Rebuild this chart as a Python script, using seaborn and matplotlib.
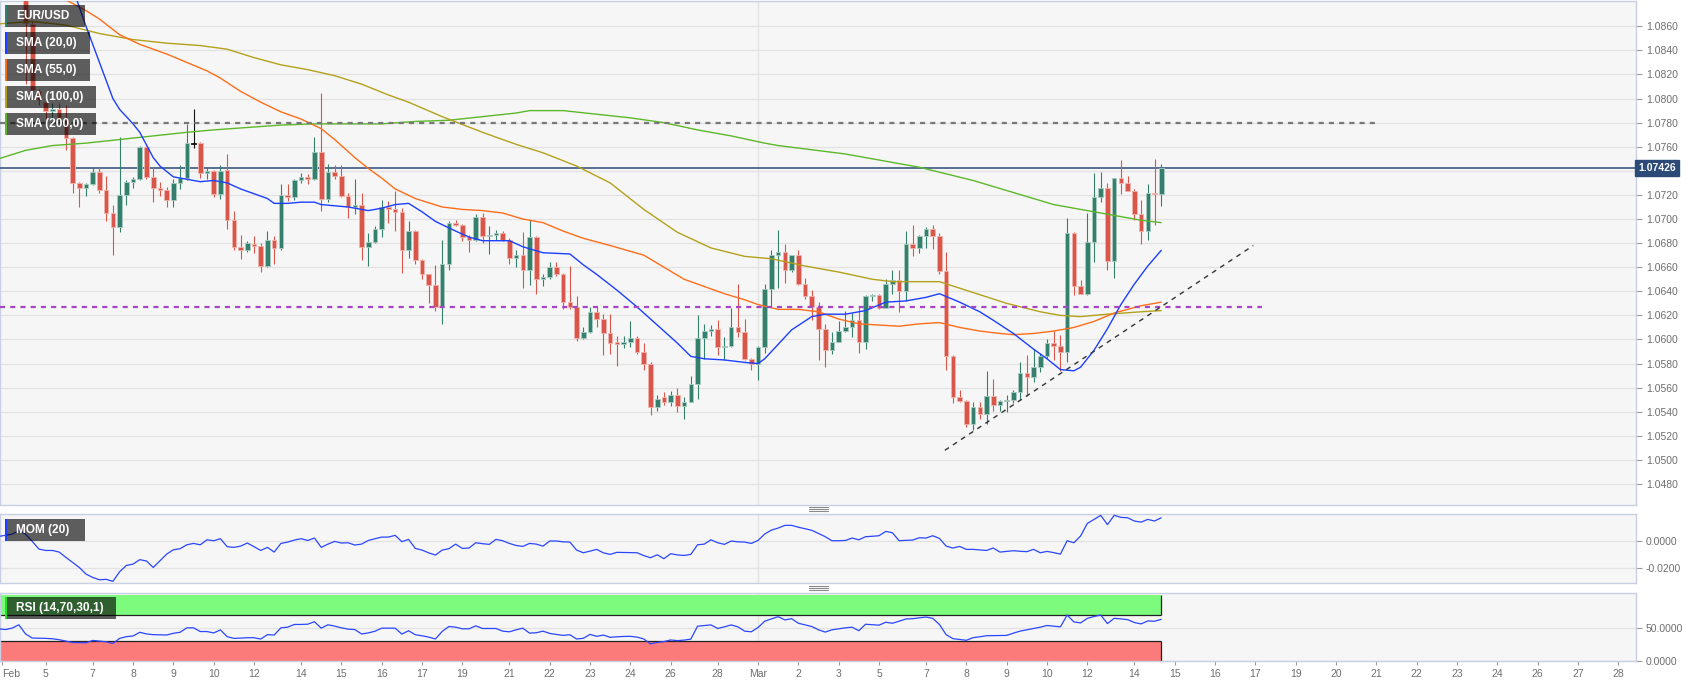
import numpy as np
import matplotlib
matplotlib.use("Agg")
import matplotlib.pyplot as plt
import seaborn as sns
from matplotlib.patches import Rectangle
from matplotlib.lines import Line2D
from matplotlib.ticker import FuncFormatter

sns.set_style("white")
plt.rcParams["font.family"] = ["Liberation Sans", "DejaVu Sans"]

# === EUR/USD 4H candles (first visible bar = Feb 3 12:00, index 3) ===
first_candle = 3
opens = [
    1.0910, 1.0862, 1.0806, 1.0797, 1.0790, 1.0791, 1.0782, 1.0767, 1.0730, 1.0726,
    1.0729, 1.0739, 1.0724, 1.0705, 1.0693, 1.0720, 1.0731, 1.0733, 1.0760, 1.0735,
    1.0726, 1.0724, 1.0716, 1.0730, 1.0734, 1.0763, 1.0763, 1.0738, 1.0740, 1.0721,
    1.0741, 1.0699, 1.0677, 1.0674, 1.0679, 1.0678, 1.0661, 1.0683, 1.0676, 1.0720,
    1.0718, 1.0732, 1.0735, 1.0733, 1.0756, 1.0717, 1.0739, 1.0736, 1.0719, 1.0710,
    1.0712, 1.0677, 1.0681, 1.0692, 1.0710, 1.0708, 1.0706, 1.0674, 1.0690, 1.0666,
    1.0654, 1.0645, 1.0627, 1.0663, 1.0697, 1.0695, 1.0685, 1.0683, 1.0702, 1.0686,
    1.0687, 1.0688, 1.0683, 1.0668, 1.0670, 1.0658, 1.0685, 1.0650, 1.0652, 1.0660,
    1.0654, 1.0631, 1.0627, 1.0601, 1.0606, 1.0623, 1.0617, 1.0605, 1.0598, 1.0596,
    1.0598, 1.0601, 1.0590, 1.0580, 1.0544, 1.0552, 1.0548, 1.0554, 1.0545, 1.0548,
    1.0563, 1.0601, 1.0607, 1.0609, 1.0594, 1.0595, 1.0610, 1.0606, 1.0584, 1.0580,
    1.0594, 1.0642, 1.0670, 1.0673, 1.0658, 1.0670, 1.0646, 1.0636, 1.0627, 1.0609,
    1.0591, 1.0598, 1.0607, 1.0610, 1.0616, 1.0598, 1.0636, 1.0637, 1.0626, 1.0646,
    1.0649, 1.0640, 1.0679, 1.0676, 1.0686, 1.0692, 1.0686, 1.0657, 1.0586, 1.0552,
    1.0549, 1.0530, 1.0544, 1.0538, 1.0553, 1.0546, 1.0549, 1.0550, 1.0556, 1.0572,
    1.0569, 1.0577, 1.0586, 1.0597, 1.0595, 1.0590, 1.0688, 1.0644, 1.0638, 1.0681,
    1.0718, 1.0726, 1.0665, 1.0734, 1.0730, 1.0723, 1.0704, 1.0690, 1.0722, 1.0721,
]
highs = [
    1.0920, 1.0864, 1.0808, 1.0798, 1.0796, 1.0796, 1.0795, 1.0768, 1.0731, 1.0730,
    1.0743, 1.0743, 1.0736, 1.0712, 1.0768, 1.0732, 1.0735, 1.0761, 1.0761, 1.0743,
    1.0731, 1.0727, 1.0733, 1.0745, 1.0779, 1.0791, 1.0764, 1.0743, 1.0741, 1.0745,
    1.0754, 1.0707, 1.0687, 1.0682, 1.0686, 1.0680, 1.0690, 1.0686, 1.0729, 1.0729,
    1.0733, 1.0738, 1.0737, 1.0768, 1.0805, 1.0746, 1.0745, 1.0745, 1.0722, 1.0733,
    1.0722, 1.0688, 1.0694, 1.0716, 1.0715, 1.0723, 1.0709, 1.0698, 1.0691, 1.0667,
    1.0654, 1.0662, 1.0683, 1.0698, 1.0699, 1.0696, 1.0687, 1.0704, 1.0705, 1.0694,
    1.0691, 1.0690, 1.0684, 1.0674, 1.0689, 1.0699, 1.0686, 1.0654, 1.0664, 1.0664,
    1.0655, 1.0661, 1.0636, 1.0610, 1.0627, 1.0627, 1.0621, 1.0621, 1.0603, 1.0603,
    1.0615, 1.0603, 1.0597, 1.0581, 1.0554, 1.0556, 1.0557, 1.0560, 1.0552, 1.0570,
    1.0620, 1.0613, 1.0612, 1.0616, 1.0602, 1.0626, 1.0646, 1.0617, 1.0585, 1.0595,
    1.0646, 1.0674, 1.0691, 1.0679, 1.0670, 1.0674, 1.0651, 1.0641, 1.0631, 1.0613,
    1.0606, 1.0615, 1.0624, 1.0622, 1.0627, 1.0637, 1.0638, 1.0638, 1.0650, 1.0658,
    1.0658, 1.0690, 1.0695, 1.0687, 1.0693, 1.0695, 1.0688, 1.0673, 1.0587, 1.0558,
    1.0550, 1.0548, 1.0548, 1.0574, 1.0567, 1.0550, 1.0554, 1.0558, 1.0581, 1.0587,
    1.0592, 1.0589, 1.0600, 1.0607, 1.0604, 1.0701, 1.0689, 1.0649, 1.0705, 1.0738,
    1.0739, 1.0730, 1.0734, 1.0749, 1.0736, 1.0725, 1.0716, 1.0729, 1.0750, 1.0746,
]
lows = [
    1.0812, 1.0805, 1.0795, 1.0784, 1.0783, 1.0779, 1.0757, 1.0722, 1.0710, 1.0719,
    1.0728, 1.0722, 1.0698, 1.0670, 1.0689, 1.0712, 1.0726, 1.0732, 1.0733, 1.0714,
    1.0719, 1.0710, 1.0710, 1.0725, 1.0732, 1.0759, 1.0734, 1.0733, 1.0718, 1.0717,
    1.0692, 1.0674, 1.0667, 1.0673, 1.0672, 1.0656, 1.0660, 1.0663, 1.0674, 1.0715,
    1.0716, 1.0730, 1.0729, 1.0732, 1.0707, 1.0714, 1.0733, 1.0718, 1.0701, 1.0704,
    1.0666, 1.0661, 1.0680, 1.0685, 1.0697, 1.0690, 1.0655, 1.0668, 1.0663, 1.0650,
    1.0630, 1.0624, 1.0613, 1.0658, 1.0694, 1.0682, 1.0673, 1.0682, 1.0680, 1.0671,
    1.0683, 1.0682, 1.0663, 1.0660, 1.0643, 1.0645, 1.0638, 1.0644, 1.0650, 1.0653,
    1.0625, 1.0625, 1.0599, 1.0600, 1.0605, 1.0610, 1.0587, 1.0588, 1.0578, 1.0593,
    1.0594, 1.0588, 1.0575, 1.0537, 1.0541, 1.0546, 1.0545, 1.0540, 1.0534, 1.0548,
    1.0551, 1.0584, 1.0603, 1.0587, 1.0583, 1.0594, 1.0602, 1.0583, 1.0575, 1.0566,
    1.0589, 1.0627, 1.0643, 1.0647, 1.0656, 1.0645, 1.0634, 1.0616, 1.0583, 1.0577,
    1.0588, 1.0598, 1.0606, 1.0602, 1.0589, 1.0592, 1.0632, 1.0625, 1.0626, 1.0638,
    1.0623, 1.0632, 1.0669, 1.0672, 1.0676, 1.0675, 1.0654, 1.0575, 1.0547, 1.0548,
    1.0527, 1.0525, 1.0534, 1.0530, 1.0541, 1.0541, 1.0540, 1.0547, 1.0550, 1.0553,
    1.0565, 1.0573, 1.0585, 1.0583, 1.0574, 1.0581, 1.0637, 1.0638, 1.0637, 1.0664,
    1.0714, 1.0658, 1.0651, 1.0721, 1.0723, 1.0699, 1.0679, 1.0683, 1.0695, 1.0711,
]
closes = [
    1.0863, 1.0807, 1.0799, 1.0790, 1.0791, 1.0782, 1.0767, 1.0730, 1.0726, 1.0729,
    1.0739, 1.0724, 1.0705, 1.0693, 1.0720, 1.0731, 1.0733, 1.0760, 1.0735, 1.0726,
    1.0724, 1.0716, 1.0730, 1.0734, 1.0763, 1.0763, 1.0738, 1.0740, 1.0721, 1.0740,
    1.0699, 1.0677, 1.0674, 1.0680, 1.0678, 1.0661, 1.0683, 1.0676, 1.0720, 1.0718,
    1.0732, 1.0735, 1.0733, 1.0756, 1.0717, 1.0739, 1.0736, 1.0719, 1.0710, 1.0712,
    1.0677, 1.0681, 1.0692, 1.0710, 1.0708, 1.0706, 1.0674, 1.0690, 1.0666, 1.0654,
    1.0645, 1.0627, 1.0663, 1.0697, 1.0695, 1.0685, 1.0683, 1.0702, 1.0686, 1.0687,
    1.0688, 1.0683, 1.0668, 1.0670, 1.0658, 1.0685, 1.0650, 1.0652, 1.0660, 1.0654,
    1.0631, 1.0627, 1.0601, 1.0606, 1.0623, 1.0617, 1.0605, 1.0597, 1.0596, 1.0598,
    1.0601, 1.0590, 1.0580, 1.0544, 1.0551, 1.0548, 1.0554, 1.0545, 1.0548, 1.0563,
    1.0601, 1.0607, 1.0609, 1.0594, 1.0595, 1.0610, 1.0606, 1.0584, 1.0580, 1.0594,
    1.0642, 1.0670, 1.0673, 1.0658, 1.0670, 1.0646, 1.0636, 1.0627, 1.0609, 1.0591,
    1.0598, 1.0607, 1.0610, 1.0616, 1.0598, 1.0636, 1.0637, 1.0626, 1.0646, 1.0649,
    1.0640, 1.0679, 1.0676, 1.0686, 1.0692, 1.0686, 1.0657, 1.0586, 1.0552, 1.0549,
    1.0530, 1.0544, 1.0538, 1.0553, 1.0546, 1.0549, 1.0550, 1.0556, 1.0572, 1.0569,
    1.0577, 1.0586, 1.0597, 1.0595, 1.0590, 1.0688, 1.0644, 1.0638, 1.0681, 1.0718,
    1.0726, 1.0665, 1.0734, 1.0730, 1.0723, 1.0704, 1.0690, 1.0722, 1.0721, 1.07426,
]

# === Moving averages (candle index, price) ===
sma20_t = [10, 11, 12, 13, 14, 15, 16, 17, 19, 20, 22, 23, 25, 27, 29, 31, 33, 35, 37, 39,
           40, 42, 44, 46, 47, 49, 51, 54, 56, 58, 60, 62, 64, 67, 69, 71, 75, 77, 80, 84,
           86, 88, 91, 94, 97, 100, 102, 104, 107, 110, 112, 113, 115, 117, 120, 122, 125,
           128, 131, 134, 137, 139, 142, 145, 147, 150, 153, 155, 157, 159, 160, 162, 164,
           166, 168, 170, 172]
sma20_v = [1.0892, 1.0876, 1.0860, 1.0845, 1.0830, 1.0815, 1.0800, 1.0791, 1.0779, 1.0772,
           1.0751, 1.0744, 1.0735, 1.0733, 1.0731, 1.0732, 1.0730, 1.0725, 1.0721, 1.0717,
           1.0713, 1.0713, 1.0714, 1.0714, 1.0712, 1.0711, 1.0710, 1.0707, 1.0709, 1.0712,
           1.0713, 1.0706, 1.0698, 1.0690, 1.0685, 1.0682, 1.0682, 1.0677, 1.0672, 1.0671,
           1.0662, 1.0654, 1.0641, 1.0627, 1.0612, 1.0597, 1.0586, 1.0584, 1.0583, 1.0581,
           1.0580, 1.0584, 1.0596, 1.0608, 1.0619, 1.0621, 1.0621, 1.0624, 1.0631, 1.0632,
           1.0635, 1.0638, 1.0631, 1.0623, 1.0616, 1.0605, 1.0592, 1.0584, 1.0575, 1.0574,
           1.0577, 1.0591, 1.0609, 1.0629, 1.0646, 1.0661, 1.0674]
sma55_t = [8, 9, 12, 14, 17, 20, 24, 27, 30, 32, 35, 38, 41, 44, 47, 49, 52, 54, 56, 58,
           61, 65, 68, 71, 74, 77, 80, 83, 86, 90, 95, 98, 101, 104, 107, 110, 112, 115,
           118, 121, 124, 127, 130, 133, 136, 139, 142, 145, 148, 150, 153, 156, 159, 162,
           165, 167, 169, 172]
sma55_v = [1.0886, 1.0882, 1.0873, 1.0866, 1.0853, 1.0845, 1.0837, 1.0830, 1.0823, 1.0817,
           1.0806, 1.0797, 1.0789, 1.0783, 1.0775, 1.0766, 1.0751, 1.0742, 1.0734, 1.0725,
           1.0717, 1.0710, 1.0708, 1.0707, 1.0705, 1.0700, 1.0697, 1.0690, 1.0684, 1.0678,
           1.0670, 1.0660, 1.0650, 1.0644, 1.0638, 1.0633, 1.0629, 1.0625, 1.0625, 1.0623,
           1.0617, 1.0613, 1.0612, 1.0611, 1.0613, 1.0614, 1.0610, 1.0607, 1.0605, 1.0604,
           1.0605, 1.0607, 1.0610, 1.0615, 1.0622, 1.0625, 1.0628, 1.0631]
sma100_t = [-1, 4, 9, 14, 19, 24, 29, 33, 37, 41, 45, 49, 53, 57, 60, 65, 71, 76, 80, 85,
            90, 95, 100, 105, 110, 114, 119, 124, 129, 132, 134, 137, 139, 144, 149, 154,
            157, 160, 164, 169, 172]
sma100_v = [1.0862, 1.0864, 1.0861, 1.0854, 1.0849, 1.0846, 1.0844, 1.0841, 1.0834, 1.0828,
            1.0824, 1.0819, 1.0812, 1.0803, 1.0797, 1.0785, 1.0772, 1.0762, 1.0755, 1.0744,
            1.0730, 1.0708, 1.0689, 1.0676, 1.0669, 1.0667, 1.0661, 1.0656, 1.0650, 1.0648,
            1.0648, 1.0648, 1.0648, 1.0639, 1.0630, 1.0623, 1.0620, 1.0619, 1.0621, 1.0623,
            1.0624]
sma200_t = [-1, 3, 7, 12, 17, 22, 27, 31, 36, 41, 46, 51, 56, 61, 66, 71, 76, 78, 83, 88,
            93, 98, 103, 108, 113, 115, 125, 136, 144, 150, 156, 162, 165, 169, 172]
sma200_v = [1.0750, 1.0757, 1.0761, 1.0763, 1.0766, 1.0769, 1.0772, 1.0774, 1.0776, 1.0778,
            1.0779, 1.0779, 1.0779, 1.0781, 1.0782, 1.0785, 1.0788, 1.0790, 1.0790, 1.0787,
            1.0784, 1.0780, 1.0774, 1.0769, 1.0763, 1.0761, 1.0754, 1.0743, 1.0732, 1.0722,
            1.0712, 1.0706, 1.0703, 1.0699, 1.0697]

# === Indicators, one value per candle from index -1 ===
ind_start = -1
mom = [
    0.0032, 0.0040, 0.0049, 0.0074, 0.0049, -0.0005, -0.0062, -0.0072, -0.0072, -0.0084,
    -0.0123, -0.0160, -0.0198, -0.0247, -0.0272, -0.0289, -0.0286, -0.0301, -0.0230, -0.0183,
    -0.0173, -0.0140, -0.0150, -0.0198, -0.0148, -0.0099, -0.0067, -0.0059, -0.0030, -0.0020,
    -0.0030, 0.0007, 0.0000, 0.0015, -0.0044, -0.0049, -0.0040, -0.0017, -0.0044, -0.0072,
    -0.0049, -0.0084, -0.0020, -0.0010, 0.0005, 0.0015, 0.0002, 0.0020, -0.0049, -0.0025,
    -0.0005, -0.0017, -0.0015, -0.0032, -0.0025, 0.0002, 0.0015, 0.0027, 0.0027, 0.0040,
    -0.0007, 0.0010, -0.0057, -0.0069, -0.0090, -0.0106, -0.0069, -0.0059, -0.0025, -0.0057,
    -0.0054, -0.0015, -0.0022, -0.0027, 0.0010, 0.0000, -0.0020, -0.0035, -0.0042, -0.0020,
    -0.0025, -0.0040, -0.0002, -0.0002, -0.0008, -0.0010, -0.0069, -0.0089, -0.0077, -0.0064,
    -0.0090, -0.0101, -0.0086, -0.0087, -0.0088, -0.0089, -0.0110, -0.0126, -0.0104, -0.0133,
    -0.0096, -0.0105, -0.0109, -0.0101, -0.0030, -0.0025, 0.0007, -0.0015, -0.0027, -0.0002,
    -0.0008, -0.0010, -0.0020, 0.0002, 0.0050, 0.0079, 0.0094, 0.0114, 0.0114, 0.0100,
    0.0089, 0.0077, 0.0054, 0.0030, 0.0000, 0.0000, 0.0002, 0.0020, 0.0007, 0.0030,
    0.0033, 0.0037, 0.0069, 0.0059, 0.0000, 0.0003, 0.0005, 0.0022, 0.0020, 0.0037,
    0.0017, -0.0040, -0.0054, -0.0042, -0.0064, -0.0064, -0.0068, -0.0072, -0.0054, -0.0084,
    -0.0079, -0.0074, -0.0078, -0.0081, -0.0064, -0.0089, -0.0079, -0.0088, -0.0099, 0.0000,
    -0.0015, 0.0035, 0.0128, 0.0158, 0.0188, 0.0119, 0.0188, 0.0173, 0.0170, 0.0146,
    0.0138, 0.0158, 0.0146, 0.0170,
]
rsi = [
    48.5, 47.4, 49.5, 54.6, 40.8, 34.6, 34.3, 34.1, 33.5, 32.1,
    30.0, 27.9, 27.6, 27.4, 31.0, 30.0, 29.0, 26.4, 34.1, 36.7,
    37.7, 43.3, 40.8, 39.7, 39.5, 39.2, 41.8, 43.3, 50.0, 50.0,
    44.4, 44.4, 42.3, 46.9, 36.7, 34.1, 34.5, 35.1, 35.1, 33.1,
    39.7, 39.2, 50.0, 51.0, 55.1, 55.1, 55.5, 59.2, 49.5, 54.6,
    52.6, 50.0, 48.0, 47.4, 40.8, 42.3, 44.9, 49.5, 49.5, 49.5,
    40.6, 45.6, 39.6, 38.0, 36.0, 33.2, 44.6, 52.0, 51.0, 48.5,
    48.5, 53.0, 49.0, 49.0, 49.0, 45.0, 44.0, 47.0, 49.5, 42.0,
    42.6, 45.0, 41.6, 40.0, 38.6, 39.6, 33.2, 34.2, 40.1, 37.2,
    39.1, 35.7, 36.5, 37.0, 37.2, 36.0, 33.2, 25.8, 28.0, 29.3,
    31.7, 30.7, 31.5, 33.0, 52.5, 53.5, 54.4, 49.0, 51.5, 54.4,
    51.5, 45.0, 44.0, 50.5, 60.0, 63.5, 66.8, 61.9, 63.8, 56.9,
    54.5, 52.0, 47.0, 43.6, 47.0, 48.5, 50.0, 51.0, 45.6, 55.4,
    54.7, 54.0, 58.4, 56.9, 60.0, 63.3, 63.8, 65.0, 66.3, 64.3,
    55.0, 39.6, 33.7, 32.5, 31.2, 35.2, 36.5, 38.1, 38.3, 38.5,
    38.6, 42.0, 45.0, 47.0, 49.0, 51.0, 53.5, 52.5, 51.5, 69.3,
    58.9, 57.4, 64.3, 67.0, 69.3, 56.4, 64.3, 63.5, 62.3, 58.0,
    55.9, 60.4, 59.9, 62.8,
]

# === Drawn levels ===
resistance, resistance_end = 1.0780, 204
support, support_end = 1.0627, 187
trend_t = [139.8, 185.7]
trend_v = [1.0508, 1.0678]

# === Date axis (candle index of each labelled day) ===
tick_idx = [-0.5, 6, 13, 19, 25, 31, 37, 44, 50, 56, 62, 68, 75, 81, 87, 93, 99, 106,
            112, 118, 124, 130, 137, 143, 149, 155, 161, 168,
            174, 180, 186, 192, 198, 204, 210, 216, 222, 228, 234, 240]
tick_lbl = ["Feb", "5", "7", "8", "9", "10", "12", "14", "15", "16", "17", "19", "21",
            "22", "23", "24", "26", "28", "Mar", "2", "3", "5", "7", "8", "9", "10", "12",
            "14", "15", "16", "17", "19", "20", "21", "22", "23", "24", "26", "27", "28"]
march_idx = 112

# === Estilo ===
UP, DOWN = "#35806c", "#d9574a"
UP_EDGE, DOWN_EDGE = "#a9cbc1", "#f0b3aa"
C20, C55, C100, C200 = "#1c3fff", "#ff6d1a", "#b3a11b", "#5cb82a"
IND = "#2a46ff"
NAVY = "#2c4a78"
BG = "#f6f6f6"
GRID = "#e3e3e3"
SPINE = "#c7cfe2"
TXT = "#6e6e6e"

W, H = 1707, 687
fig = plt.figure(figsize=(W / 100, H / 100), dpi=100)
fig.patch.set_facecolor("white")


def px_rect(l, t, r, b):
    return [l / W, 1 - b / H, (r - l) / W, (b - t) / H]


ax = fig.add_axes(px_rect(0, 1, 1636, 505))
ax_mom = fig.add_axes(px_rect(0, 514, 1636, 583), sharex=ax)
ax_rsi = fig.add_axes(px_rect(0, 593, 1636, 661), sharex=ax)

x0, x1 = -0.8, 242.65
for a in (ax, ax_mom, ax_rsi):
    a.set_facecolor(BG)
    for s in a.spines.values():
        s.set_color(SPINE)
        s.set_linewidth(1)
    a.yaxis.tick_right()
    a.tick_params(axis="y", direction="out", length=4, width=0.8, color="#9a9a9a",
                  labelcolor=TXT, labelsize=7.5, pad=3)
    a.tick_params(axis="x", bottom=False, labelbottom=False)
    a.grid(axis="y", color=GRID, linewidth=1)
    a.set_axisbelow(True)
    a.axvline(march_idx, color=GRID, linewidth=1, zorder=0.5)
ax.set_xlim(x0, x1)

# --- candles ---
o, h, l, c = (np.array(v) for v in (opens, highs, lows, closes))
xc = np.arange(first_candle, first_candle + len(o))
col = np.where(c > o, UP, np.where(c < o, DOWN, "#111111"))
edge = np.where(c > o, UP_EDGE, np.where(c < o, DOWN_EDGE, "#111111"))
body = np.maximum(np.abs(c - o), 0.00009)
bottom = np.where(np.abs(c - o) < 0.00009, np.minimum(o, c) - 0.000045, np.minimum(o, c))
ax.vlines(xc, l, h, colors=col, linewidth=0.8, zorder=3)
ax.bar(xc, body, bottom=bottom, width=0.68, color=col, edgecolor=edge,
       linewidth=0.6, zorder=4)

# --- moving averages ---
for t, v, cc in ((sma200_t, sma200_v, C200), (sma100_t, sma100_v, C100),
                 (sma55_t, sma55_v, C55), (sma20_t, sma20_v, C20)):
    sns.lineplot(x=t, y=v, ax=ax, color=cc, linewidth=1.0, estimator=None,
                 sort=False, legend=False, zorder=5)

# --- levels ---
last = closes[-1]
ax.axhline(last, color=NAVY, linewidth=1.1, zorder=2.6)
ax.plot([x0, resistance_end], [resistance] * 2, color="#777777", linewidth=1.6,
        dashes=(2.3, 2.3), zorder=5)
ax.plot([x0, support_end], [support] * 2, color="#a646c4", linewidth=1.6,
        dashes=(2.3, 2.3), zorder=5)
ax.plot(trend_t, trend_v, color="#333333", linewidth=1.0, dashes=(3.5, 3.5), zorder=5)

ax.set_ylim(1.04626, 1.0881)
ax.set_yticks(np.arange(1.0480, 1.0861, 0.002))
ax.yaxis.set_major_formatter(FuncFormatter(
    lambda v, p: "" if abs(v - last) < 0.0008 else f"{v:.4f}"))
ax.text(1.0016, last, f"{last:.5f}", transform=ax.get_yaxis_transform(), ha="left",
        va="center", color="white", fontsize=7.5, fontweight="bold", zorder=10,
        bbox=dict(boxstyle="square,pad=0.3", fc=NAVY, ec=NAVY))

# --- momentum ---
xi = np.arange(ind_start, ind_start + len(mom))
sns.lineplot(x=xi, y=mom, ax=ax_mom, color=IND, linewidth=0.9, estimator=None,
             legend=False, zorder=3)
ax_mom.set_ylim(-0.0313, 0.0198)
ax_mom.set_yticks([0.0, -0.02])
ax_mom.yaxis.set_major_formatter(FuncFormatter(lambda v, p: f"{v:.4f}"))

# --- RSI ---
band_end = xc[-1]
ax_rsi.add_patch(Rectangle((x0, 70), band_end - x0, 30, facecolor="#7dfb7d",
                           edgecolor="none", zorder=1))
ax_rsi.add_patch(Rectangle((x0, 0), band_end - x0, 30, facecolor="#fb7b7b",
                           edgecolor="none", zorder=1))
ax_rsi.hlines([70, 30], x0, band_end, color="#222222", linewidth=0.9, zorder=2)
ax_rsi.vlines([band_end, band_end], [70, 0], [100, 30], color="#222222",
              linewidth=0.9, zorder=2)
sns.lineplot(x=np.arange(ind_start, ind_start + len(rsi)), y=rsi, ax=ax_rsi, color=IND,
             linewidth=0.9, estimator=None, legend=False, zorder=3)
ax_rsi.set_ylim(0, 102.5)
ax_rsi.set_yticks([0, 50])
ax_rsi.yaxis.set_major_formatter(FuncFormatter(lambda v, p: f"{v:.4f}"))

ax_rsi.tick_params(axis="x", bottom=True, labelbottom=True, direction="out", length=3,
                   width=0.8, color="#9a9a9a", labelcolor=TXT, labelsize=7.5, pad=3)
ax_rsi.set_xticks(tick_idx)
ax_rsi.set_xticklabels(tick_lbl)
ax_rsi.get_xticklabels()[0].set_horizontalalignment("left")
ax_rsi.set_xlim(x0, x1)

for a in (ax, ax_mom, ax_rsi):
    a.set_xlabel("")
    a.set_ylabel("")


# --- labels (legend tags) ---
def tag(l, t, r, b, text, strip):
    fig.add_artist(Rectangle((l / W, 1 - b / H), (r - l) / W, (b - t) / H,
                             transform=fig.transFigure, facecolor="black", alpha=0.62,
                             edgecolor="none", zorder=10))
    fig.add_artist(Rectangle((l / W, 1 - b / H), 2.4 / W, (b - t) / H,
                             transform=fig.transFigure, facecolor=strip,
                             edgecolor="none", zorder=11))
    fig.text((l + 11) / W, 1 - (t + b) / 2 / H, text, color="white", fontsize=8.6,
             fontweight="bold", ha="left", va="center", zorder=12)


tag(5, 5, 85, 27, "EUR/USD", "#2e8070")
tag(5, 32, 90, 54, "SMA (20,0)", C20)
tag(5, 59, 90, 81, "SMA (55,0)", C55)
tag(5, 86, 96, 108, "SMA (100,0)", C100)
tag(5, 113, 96, 135, "SMA (200,0)", C200)
tag(5, 519, 85, 541, "MOM (20)", "#1c3fff")
tag(5, 597, 116, 619, "RSI (14,70,30,1)", "#22e022")

# --- panel drag handles ---
for yh in (509, 588):
    for dy in (-2, 0, 2):
        fig.add_artist(Line2D([809 / W, 828 / W], [1 - (yh + dy) / H] * 2,
                              transform=fig.transFigure, color="#8a8a8a", linewidth=0.8))

fig.savefig("out.png", dpi=100)
